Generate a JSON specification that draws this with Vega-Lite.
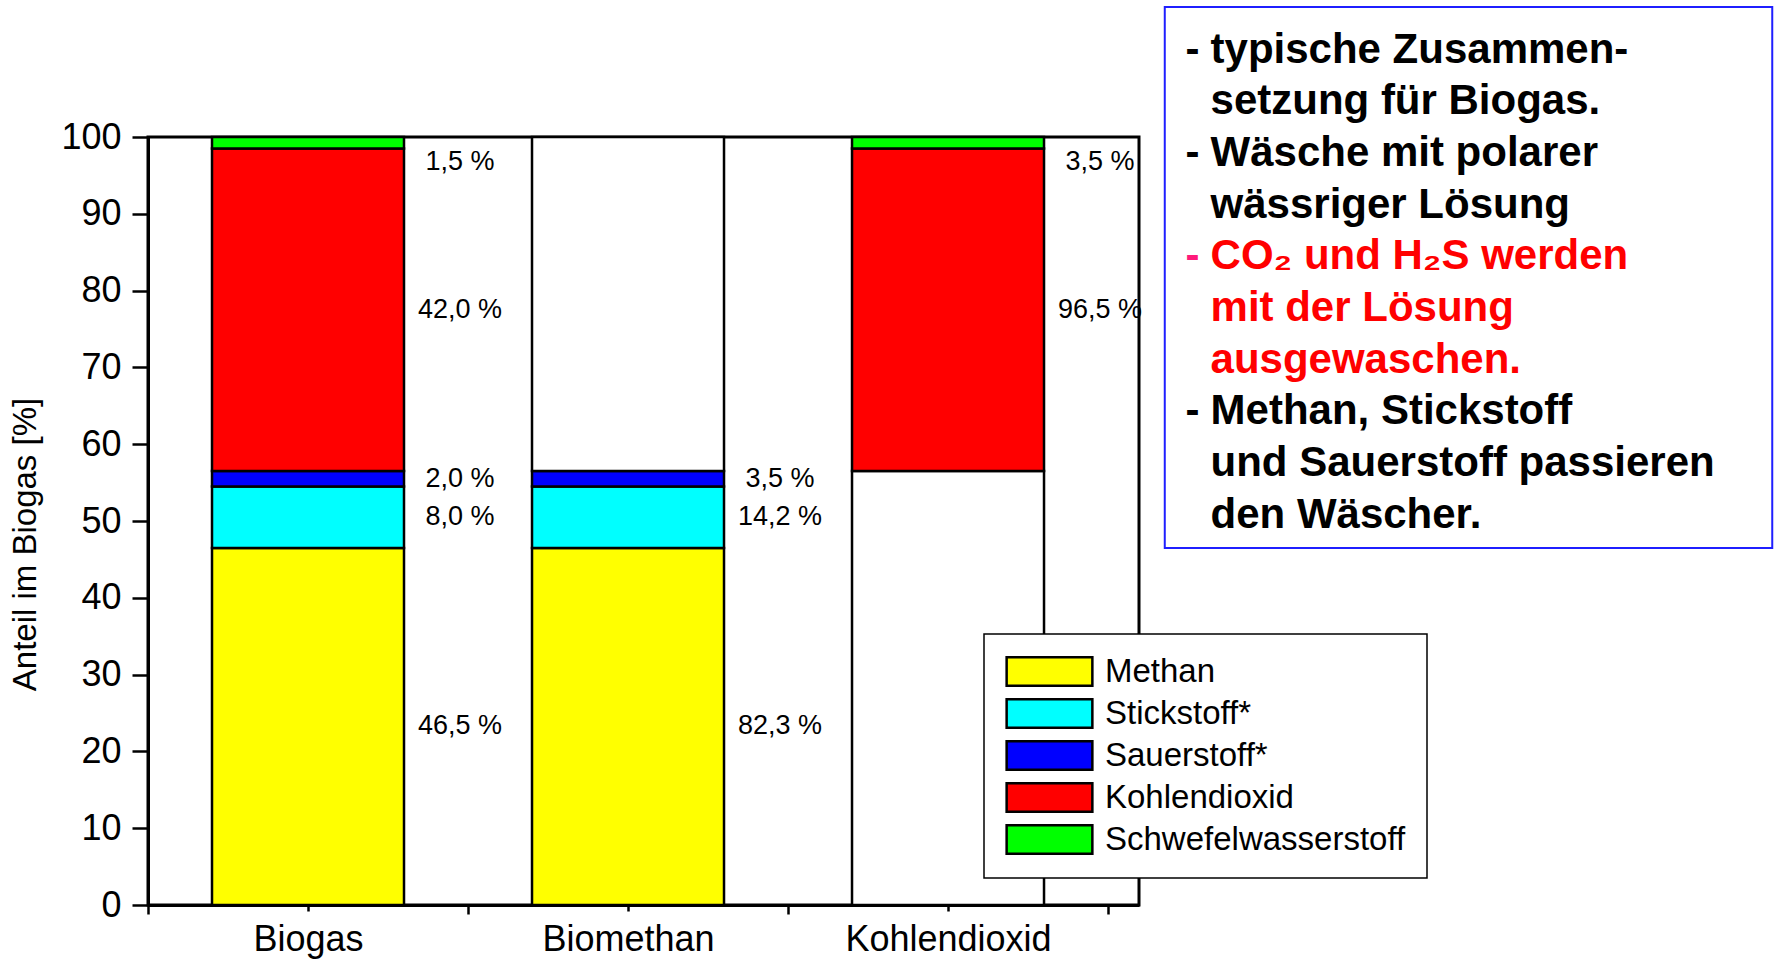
{
  "$schema": "https://vega.github.io/schema/vega-lite/v6.json",
  "width": 991,
  "height": 768,
  "autosize": {"type": "none"},
  "padding": {"left": 148, "top": 137, "right": 635, "bottom": 54},
  "background": "white",
  "config": {
    "font": "Liberation Sans",
    "view": {"stroke": "black", "strokeWidth": 3},
    "axis": {"labelFont": "Liberation Sans", "titleFont": "Liberation Sans", "labelColor": "black", "titleColor": "black", "tickColor": "black", "domainColor": "black", "grid": false},
    "text": {"font": "Liberation Sans"},
    "legend": {"strokeWidth": 1.5}
  },
  "layer": [
    {
      "data": {
        "values": [
          {"probe": "Biogas", "komponente": "Methan", "nr": 1, "wert": 46.5, "anteil": 46.5},
          {"probe": "Biogas", "komponente": "Stickstoff*", "nr": 2, "wert": 8.0, "anteil": 8.0},
          {"probe": "Biogas", "komponente": "Sauerstoff*", "nr": 3, "wert": 2.0, "anteil": 2.0},
          {"probe": "Biogas", "komponente": "Kohlendioxid", "nr": 4, "wert": 42.0, "anteil": 42.0},
          {"probe": "Biogas", "komponente": "Schwefelwasserstoff", "nr": 5, "wert": 1.5, "anteil": 1.5},
          {"probe": "Biomethan", "komponente": "Methan", "nr": 1, "wert": 46.5, "anteil": 82.3},
          {"probe": "Biomethan", "komponente": "Stickstoff*", "nr": 2, "wert": 8.0, "anteil": 14.2},
          {"probe": "Biomethan", "komponente": "Sauerstoff*", "nr": 3, "wert": 2.0, "anteil": 3.5},
          {"probe": "Biomethan", "komponente": "abgetrennt", "nr": 6, "wert": 43.5, "anteil": null},
          {"probe": "Kohlendioxid", "komponente": "nicht enthalten", "nr": 0, "wert": 56.5, "anteil": null},
          {"probe": "Kohlendioxid", "komponente": "Kohlendioxid", "nr": 4, "wert": 42.0, "anteil": 96.5},
          {"probe": "Kohlendioxid", "komponente": "Schwefelwasserstoff", "nr": 5, "wert": 1.5, "anteil": 3.5}
        ]
      },
      "transform": [
        {"stack": "wert", "groupby": ["probe"], "sort": [{"field": "nr", "order": "ascending"}], "as": ["unten", "oben"]},
        {"calculate": "min((datum.unten + datum.oben) / 2, 96.8)", "as": "mitte"},
        {"calculate": "datum.anteil == null ? '' : replace(format(datum.anteil, '.1f'), '.', ',') + ' %'", "as": "beschriftung"}
      ],
      "layer": [
        {
          "mark": {"type": "bar", "stroke": "black", "strokeWidth": 2.5, "opacity": 1, "width": {"band": 0.6}},
          "encoding": {
            "x": {
              "field": "probe", "type": "nominal", "sort": ["Biogas", "Biomethan", "Kohlendioxid"],
              "scale": {"paddingInner": 0, "paddingOuter": 0.0484, "align": 0},
              "axis": {"orient": "bottom", "title": null, "tickBand": "extent", "labelFontSize": 36, "labelPadding": 8, "labelLimit": 500, "tickSize": 9, "tickWidth": 2.5, "domainWidth": 3, "labelAngle": 0}
            },
            "y": {
              "field": "oben", "type": "quantitative", "stack": null, "title": "Anteil im Biogas [%]",
              "scale": {"domain": [0, 100], "nice": false},
              "axis": {
                "values": [0, 5, 10, 15, 20, 25, 30, 35, 40, 45, 50, 55, 60, 65, 70, 75, 80, 85, 90, 95, 100],
                "labelExpr": "datum.value % 10 === 0 ? datum.label : ''",
                "tickSize": {"condition": {"test": "datum.value % 10 === 0", "value": 16}, "value": 8},
                "labelFontSize": 36, "labelPadding": 11, "tickWidth": 2.5, "domainWidth": 3,
                "titleFontSize": 33, "titleFontWeight": "normal", "titlePadding": 18, "titleY": 407
              }
            },
            "y2": {"field": "unten"},
            "color": {
              "field": "komponente", "type": "nominal",
              "scale": {
                "domain": ["Methan", "Stickstoff*", "Sauerstoff*", "Kohlendioxid", "Schwefelwasserstoff", "abgetrennt", "nicht enthalten"],
                "range": ["#ffff00", "#00ffff", "#0000ff", "#ff0000", "#00ff00", "#ffffff", "#ffffff"]
              },
              "legend": {
                "title": null,
                "values": ["Methan", "Stickstoff*", "Sauerstoff*", "Kohlendioxid", "Schwefelwasserstoff"],
                "orient": "none", "legendX": 836, "legendY": 497,
                "fillColor": "white", "strokeColor": "black", "padding": 21,
                "labelFontSize": 33, "labelFont": "Liberation Sans", "labelColor": "black", "labelOffset": 11, "labelLimit": 500,
                "symbolType": "M-1,-0.33H1V0.33H-1Z", "symbolSize": 7350,
                "symbolStrokeColor": "black", "symbolStrokeWidth": 2.5, "symbolOpacity": 1,
                "clipHeight": 33, "rowPadding": 8
              }
            }
          }
        },
        {
          "transform": [{"filter": "datum.beschriftung != ''"}],
          "mark": {"type": "text", "align": "center", "baseline": "middle", "fontSize": 27, "dx": 152, "color": "black"},
          "encoding": {
            "x": {
              "field": "probe", "type": "nominal", "sort": ["Biogas", "Biomethan", "Kohlendioxid"],
              "axis": {"orient": "bottom", "title": null, "labels": false, "domain": false, "tickSize": 6, "tickWidth": 2.5}
            },
            "y": {"field": "mitte", "type": "quantitative", "title": "Anteil im Biogas [%]"},
            "text": {"field": "beschriftung"}
          }
        }
      ],
      "resolve": {"axis": {"x": "independent"}}
    },
    {
      "data": {
        "values": [
          {"zeile": 1, "strich": "-", "text": "typische Zusammen-", "gruppe": "allgemein"},
          {"zeile": 2, "strich": "", "text": "setzung für Biogas.", "gruppe": "allgemein"},
          {"zeile": 3, "strich": "-", "text": "Wäsche mit polarer", "gruppe": "allgemein"},
          {"zeile": 4, "strich": "", "text": "wässriger Lösung", "gruppe": "allgemein"},
          {"zeile": 5, "strich": "-", "text": "CO₂ und H₂S werden", "gruppe": "ausgewaschen"},
          {"zeile": 6, "strich": "", "text": "mit der Lösung", "gruppe": "ausgewaschen"},
          {"zeile": 7, "strich": "", "text": "ausgewaschen.", "gruppe": "ausgewaschen"},
          {"zeile": 8, "strich": "-", "text": "Methan, Stickstoff", "gruppe": "allgemein"},
          {"zeile": 9, "strich": "", "text": "und Sauerstoff passieren", "gruppe": "allgemein"},
          {"zeile": 10, "strich": "", "text": "den Wäscher.", "gruppe": "allgemein"}
        ]
      },
      "layer": [
        {
          "data": {"values": [{}]},
          "mark": {"type": "rect", "fill": "white", "stroke": "#1f1fff", "strokeWidth": 2},
          "encoding": {
            "x": {"datum": 102.6, "type": "quantitative", "scale": {"domain": [0, 100], "nice": false, "zero": false}, "axis": null},
            "x2": {"datum": 163.9},
            "y": {"datum": 0.172, "type": "quantitative", "scale": {"domain": [2.688, 17.552], "reverse": true, "nice": false, "zero": false}, "axis": null},
            "y2": {"datum": 10.642}
          }
        },
        {
          "transform": [{"filter": "datum.strich != ''"}],
          "mark": {"type": "text", "align": "left", "baseline": "middle", "fontSize": 42, "fontWeight": "bold", "font": "Liberation Sans"},
          "encoding": {
            "x": {"datum": 104.69, "type": "quantitative", "scale": {"domain": [0, 100], "nice": false, "zero": false}, "axis": null},
            "y": {"field": "zeile", "type": "quantitative", "scale": {"domain": [2.688, 17.552], "reverse": true, "nice": false, "zero": false}, "axis": null},
            "text": {"field": "strich"},
            "color": {"field": "gruppe", "type": "nominal", "scale": {"domain": ["allgemein", "ausgewaschen"], "range": ["#000000", "#ff1a7a"]}, "legend": null}
          }
        },
        {
          "mark": {"type": "text", "align": "left", "baseline": "middle", "fontSize": 42, "fontWeight": "bold", "font": "Liberation Sans"},
          "encoding": {
            "x": {"datum": 107.22, "type": "quantitative", "scale": {"domain": [0, 100], "nice": false, "zero": false}, "axis": null},
            "y": {"field": "zeile", "type": "quantitative", "scale": {"domain": [2.688, 17.552], "reverse": true, "nice": false, "zero": false}, "axis": null},
            "text": {"field": "text"},
            "color": {"field": "gruppe", "type": "nominal", "scale": {"domain": ["allgemein", "ausgewaschen"], "range": ["#000000", "#ff0000"]}, "legend": null}
          }
        }
      ],
      "resolve": {"scale": {"color": "independent"}}
    }
  ],
  "resolve": {"scale": {"x": "independent", "y": "independent", "color": "independent"}}
}
